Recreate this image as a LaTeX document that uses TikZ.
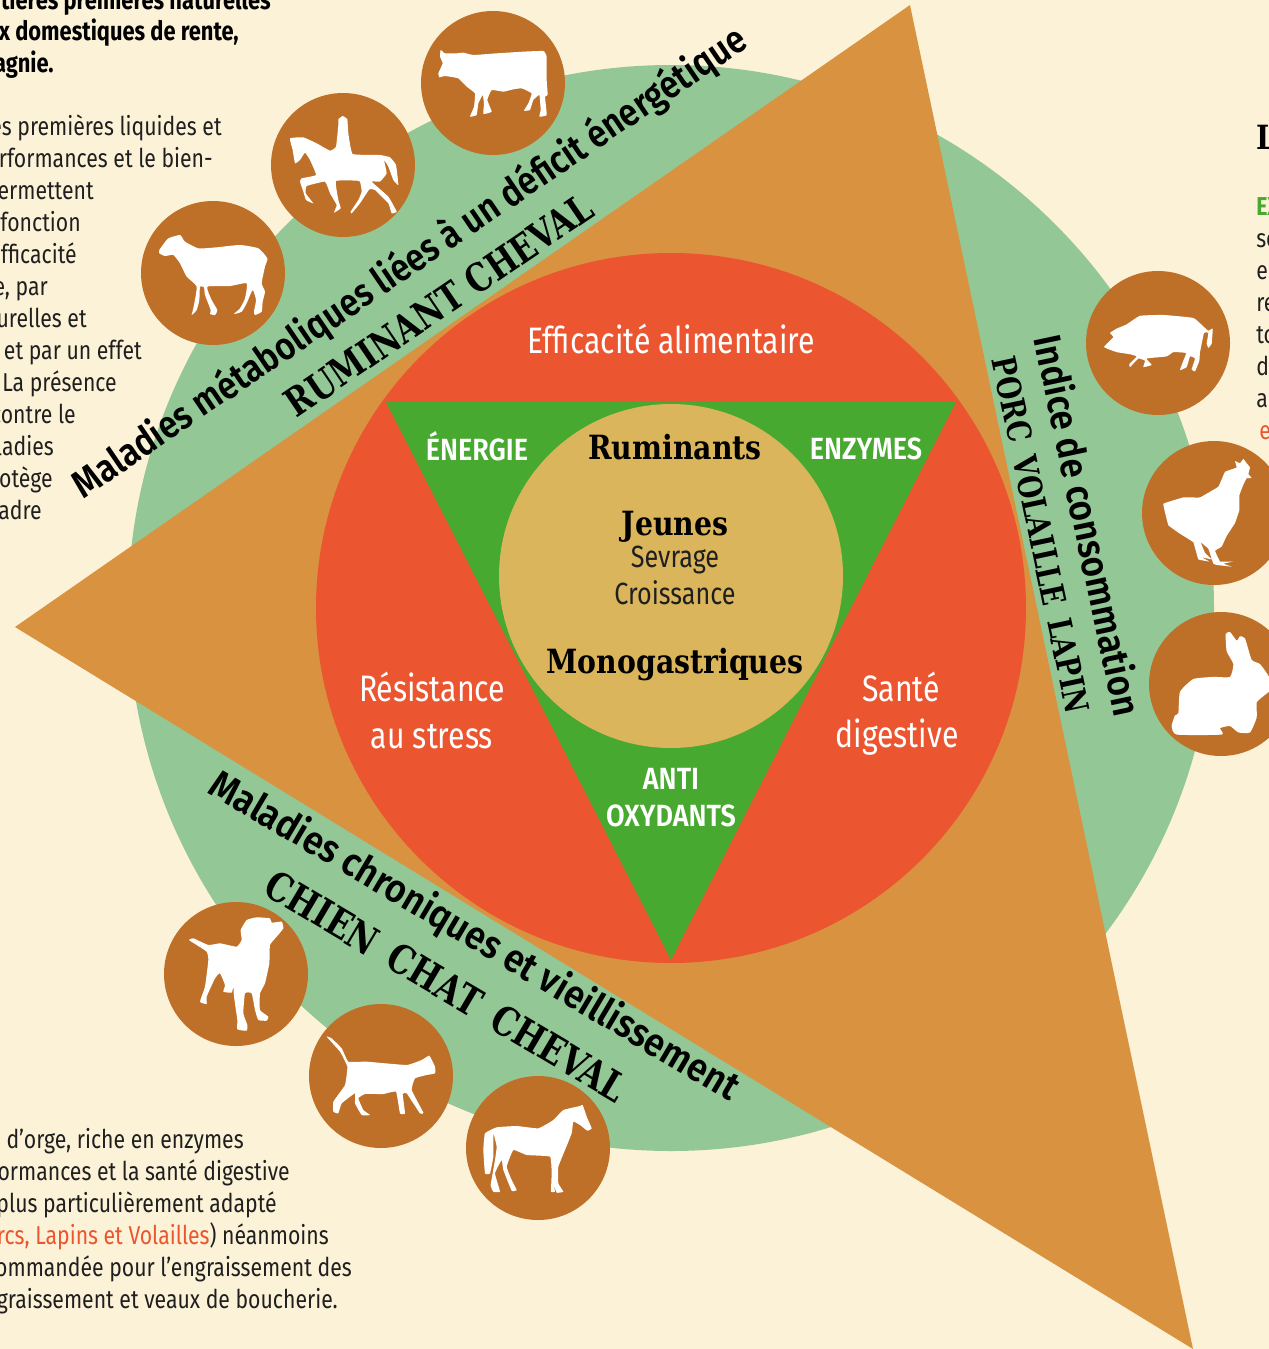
\documentclass[tikz,border=0pt]{standalone}
\usepackage{fontspec}
\setmainfont{Fira Sans}
\newfontfamily\bodyf[FakeStretch=0.82]{Fira Sans}
\newfontfamily\headf[FakeStretch=0.88]{Fira Sans SemiBold}
\newfontfamily\bandf[FakeStretch=0.90]{Fira Sans SemiBold}
\newfontfamily\bandn[FakeStretch=0.865]{Fira Sans SemiBold}
\newfontfamily\slabf[FakeStretch=0.85]{DejaVu Serif}
\newfontfamily\slabm[FakeStretch=0.80]{DejaVu Serif}
\definecolor{bgc}{HTML}{FCF2D7}
\definecolor{leaf}{HTML}{93C896}
\definecolor{amber}{HTML}{D99240}
\definecolor{tomato}{HTML}{EB5530}
\definecolor{grass}{HTML}{47A92F}
\definecolor{sand}{HTML}{DAB55B}
\definecolor{rust}{HTML}{BF7028}
\tikzset{
  body/.style={font=\bodyf\fontsize{19.4}{24}\selectfont,text=black!88,inner sep=0pt},
  bodyR/.style={body,anchor=base east},
  boldl/.style={font=\bodyf\bfseries\fontsize{20}{24}\selectfont,text=black,inner sep=0pt,anchor=base east},
  white1/.style={font=\bodyf\fontsize{27.6}{30}\selectfont,text=white,inner sep=0pt},
  white2/.style={font=\headf\fontsize{23}{24}\selectfont,text=white,inner sep=0pt},
  slab/.style={font=\slabf\bfseries\fontsize{25}{28}\selectfont,text=black,inner sep=0pt},
  midtext/.style={font=\bodyf\fontsize{23}{24}\selectfont,text=black!88,inner sep=0pt},
  band/.style={font=\bandf\fontsize{29.5}{30}\selectfont,text=black,inner sep=0pt},
  bandb/.style={font=\slabm\bfseries\fontsize{29.2}{30}\selectfont,text=black,inner sep=0pt},
  disc/.style={circle,fill=rust,minimum size=108pt,inner sep=0pt},
  sil/.style={fill=white,draw=none},
  zoomA/.style={shift={(130,0)},x=0.25pt,y=-0.25pt},
  zoomB/.style={shift={(1080,100)},x=0.25pt,y=-0.3205pt},
  zoomC/.style={shift={(150,890)},x=0.25pt,y=-0.25pt}
}
\begin{document}
\begin{tikzpicture}[x=0.75pt,y=-0.75pt]
\useasboundingbox (0,0) rectangle (1269,1349);
\clip (0,0) rectangle (1269,1349);
\fill[bgc] (0,0) rectangle (1269,1349);
% big shapes
\fill[leaf] (671,608) circle[radius=543];
\fill[amber] (910,5) -- (1193,1349) -- (15,627) -- cycle;
\fill[tomato] (671,608) circle[radius=355];
\fill[grass] (386,402) -- (956,402) -- (671,960) -- cycle;
\fill[sand] (671,576) circle[radius=172];
% discs
\node[disc] (cow) at (493,83) {};
\node[disc] (rider) at (343,165) {};
\node[disc] (sheep) at (213,273) {};
\node[disc] (pig) at (1158,343) {};
\node[disc] (hen) at (1214,513) {};
\node[disc] (rabbit) at (1221,684) {};
\node[disc] (dog) at (236,974) {};
\node[disc] (cat) at (381,1076) {};
\node[disc] (horse) at (538,1148) {};
% silhouettes
\begin{scope}[zoomA]
\fill[sil] plot[smooth cycle,tension=0.3] coordinates {(88,750)(100,733)(115,715)(150,705)(165,725)(205,745)(260,742)(330,735)(385,745)(412,775)(405,800)(395,850)(405,875)(398,905)(395,935)(375,945)(372,935)(378,900)(368,870)(350,910)(335,935)(312,942)(330,925)(345,895)(350,850)(300,858)(232,860)(245,900)(262,930)(255,945)(240,942)(242,930)(225,885)(222,862)(210,860)(208,900)(200,930)(185,945)(190,925)(200,860)(170,830)(150,790)(130,765)(105,768)(88,760)};
\fill[sil] plot[smooth cycle,tension=0.2] coordinates {(480,415)(520,412)(560,430)(600,452)(618,440)(625,375)(625,358)(638,348)(652,358)(655,400)(668,462)(750,465)(780,472)(798,495)(805,555)(790,540)(775,500)(762,480)(770,520)(750,545)(725,545)(775,590)(800,635)(785,640)(775,610)(735,570)(718,568)(690,610)(665,640)(662,635)(685,600)(695,575)(688,543)(618,543)(625,600)(632,625)(612,638)(620,615)(600,580)(585,545)(530,558)(527,580)(550,610)(528,600)(520,575)(510,545)(515,535)(558,525)(540,480)(525,458)(510,480)(495,490)(488,450)};
\fill[sil] plot[smooth cycle,tension=0.2] coordinates {(932,150)(945,160)(980,160)(1000,158)(1030,165)(1100,160)(1180,155)(1240,153)(1250,170)(1250,240)(1253,285)(1245,290)(1250,345)(1228,350)(1232,330)(1228,285)(1210,300)(1200,330)(1182,332)(1195,310)(1205,280)(1175,265)(1150,268)(1120,275)(1085,270)(1072,300)(1085,335)(1060,342)(1062,310)(1058,285)(1045,310)(1040,345)(1020,350)(1032,320)(1035,280)(1010,260)(985,235)(945,228)(928,232)(925,220)(938,190)(930,170)};
\end{scope}
\begin{scope}[zoomB]
\fill[sil] plot[smooth cycle,tension=0.2] coordinates {(72,578)(100,555)(90,545)(110,535)(140,525)(180,505)(250,503)(340,510)(370,530)(385,540)(398,535)(395,570)(385,580)(380,570)(385,545)(372,545)(360,590)(358,610)(345,635)(335,630)(345,605)(330,600)(320,625)(300,632)(310,610)(318,592)(280,590)(260,600)(200,605)(215,620)(190,625)(195,610)(175,605)(150,625)(148,618)(170,600)(150,595)(110,590)};
\fill[sil] plot[smooth cycle,tension=0.1] coordinates {(250,945)(310,930)(360,930)(415,905)(435,870)(470,860)(465,845)(480,850)(490,840)(500,850)(510,860)(505,875)(515,885)(500,885)(490,900)(478,925)(478,960)(465,990)(440,1020)(425,1045)(405,1055)(420,1080)(460,1080)(430,1085)(455,1092)(410,1088)(400,1085)(385,1050)(362,1035)(375,1060)(395,1075)(365,1070)(388,1080)(355,1075)(340,1035)(300,1015)(265,995)};
\fill[sil] plot[smooth cycle,tension=0.3] coordinates {(437,1250)(450,1245)(470,1265)(480,1255)(495,1260)(515,1310)(540,1320)(567,1350)(572,1380)(550,1395)(530,1410)(530,1445)(510,1480)(475,1480)(450,1465)(420,1470)(425,1485)(290,1485)(275,1465)(285,1440)(295,1435)(300,1385)(340,1355)(400,1350)(450,1350)(460,1320)(440,1290)};
\end{scope}
\begin{scope}[zoomC]
\fill[sil] plot[smooth cycle,tension=0.25] coordinates {(117,150)(130,145)(175,165)(210,160)(260,170)(275,150)(272,120)(290,90)(320,82)(360,85)(365,98)(395,95)(400,115)(380,140)(360,165)(358,220)(345,280)(330,310)(330,360)(355,380)(350,392)(325,390)(315,360)(305,310)(285,310)(280,370)(292,405)(290,422)(262,418)(262,390)(252,320)(250,290)(245,308)(220,305)(225,285)(210,250)(195,265)(170,320)(170,342)(150,335)(165,290)(175,210)(170,185)(140,165)};
\fill[sil] plot[smooth cycle,tension=0.2] coordinates {(530,440)(545,445)(575,475)(595,515)(650,515)(770,525)(815,510)(838,497)(855,530)(855,550)(830,555)(795,565)(785,600)(820,668)(810,670)(770,610)(758,612)(765,670)(750,670)(738,605)(700,612)(645,612)(625,625)(640,660)(660,675)(635,675)(615,640)(615,610)(575,640)(565,670)(550,665)(550,635)(585,585)(592,530)(570,485)};
\fill[sil] plot[smooth cycle,tension=0.2] coordinates {(1040,712)(1100,708)(1165,715)(1210,690)(1240,660)(1290,648)(1298,645)(1310,680)(1325,715)(1312,722)(1290,705)(1270,695)(1265,730)(1245,780)(1225,830)(1225,880)(1240,905)(1220,908)(1210,880)(1215,905)(1203,905)(1205,850)(1200,800)(1130,795)(1090,780)(1070,830)(1085,870)(1100,900)(1085,902)(1060,840)(1055,810)(1035,850)(1050,905)(1030,905)(1022,885)(1035,810)(1040,770)(1030,730)(1030,800)(1020,850)(1005,850)(1000,780)(1005,730)};
\end{scope}
% band texts
\node[band,rotate=34.2,font=\bandn\fontsize{29}{30}\selectfont] (bandA) at (410,263) {Maladies métaboliques liées à un déficit énergétique};
\node[bandb,rotate=34.2] (bandAb) at (439,305) {RUMINANT CHEVAL};
\node[band,rotate=-78,font=\bandf\fontsize{29}{30}\selectfont] (bandB) at (1089,525) {Indice de consommation};
\node[bandb,rotate=-78,font=\slabm\bfseries\fontsize{24.8}{26}\selectfont] (bandBb) at (1041,535) {PORC\, VOLAILLE\, LAPIN};
\node[band,rotate=-30.6] (bandC) at (474,937) {Maladies chroniques et vieillissement};
\node[bandb,rotate=-30.6,font=\slabm\bfseries\fontsize{30}{31}\selectfont] (bandCb) at (446,986) {CHIEN\, CHAT\, CHEVAL};
% inner texts
\node[white1] (eff) at (671,339) {Efficacité alimentaire};
\node[white1] (res1) at (432,687) {Résistance};
\node[white1] (res2) at (432,737) {au stress};
\node[white1] (san1) at (901,687) {Santé};
\node[white1] (san2) at (897,737) {digestive};
\node[white2] (ener) at (477,446) {ÉNERGIE};
\node[white2] (enz) at (866,449) {ENZYMES};
\node[white2] (anti) at (671,779) {ANTI};
\node[white2] (oxy) at (671,816) {OXYDANTS};
\node[slab] (rum) at (675,447) {Ruminants};
\node[slab] (jeu) at (675,527) {Jeunes};
\node[midtext] (sev) at (675,560) {Sevrage};
\node[midtext] (cro) at (675,593) {Croissance};
\node[slab] (mono) at (675,665) {Monogastriques};
% side texts, left top
\node[boldl] (t1) at (271,9) {tières premières naturelles};
\node[boldl] (t2) at (239,40) {x domestiques de rente,};
\node[boldl] (t3) at (54,72) {agnie.};
\node[bodyR] (l1) at (222,135) {es premières liquides et};
\node[bodyR] (l2) at (213,167) {rformances et le bien-};
\node[bodyR] (l3) at (94,199) {ermettent};
\node[bodyR] (l4) at (81,231) {fonction};
\node[bodyR] (l5) at (77,263) {fficacité};
\node[bodyR] (l6) at (48,295) {e, par};
\node[bodyR] (l7) at (87,327) {urelles et};
\node[bodyR] (l8) at (142,359) {, et par un effet};
\node[bodyR] (l9) at (117,391) {La présence};
\node[bodyR] (l10) at (76,423) {contre le};
\node[bodyR] (l11) at (54,455) {ladies};
\node[bodyR] (l12) at (53,487) {otège};
\node[bodyR] (l13) at (42,519) {adre};
% side texts, bottom
\node[bodyR] (b1) at (244,1148) {d’orge, riche en enzymes};
\node[bodyR] (b2) at (290,1180) {formances et la santé digestive};
\node[bodyR] (b3) at (277,1212) {plus particulièrement adapté};
\node[bodyR] (b4) at (329,1244) {\textcolor{tomato}{rcs, Lapins et Volailles}) néanmoins};
\node[bodyR] (b5) at (352,1276) {ommandée pour l’engraissement des};
\node[bodyR] (b6) at (338,1308) {graissement et veaux de boucherie.};
% side texts, right
\node[slab,anchor=base west] (r0) at (1256,149) {L};
\node[body,anchor=base west,font=\bodyf\bfseries\fontsize{19.4}{24}\selectfont,text=grass] (r1) at (1256,215) {EX};
\node[body,anchor=base west] (r2) at (1256,247) {so};
\node[body,anchor=base west] (r3) at (1256,279) {e};
\node[body,anchor=base west] (r4) at (1256,311) {re};
\node[body,anchor=base west] (r5) at (1256,343) {to};
\node[body,anchor=base west] (r6) at (1256,375) {d};
\node[body,anchor=base west] (r7) at (1256,407) {al};
\node[body,anchor=base west,text=tomato] (r8) at (1259,439) {e};
\end{tikzpicture}
\end{document}
